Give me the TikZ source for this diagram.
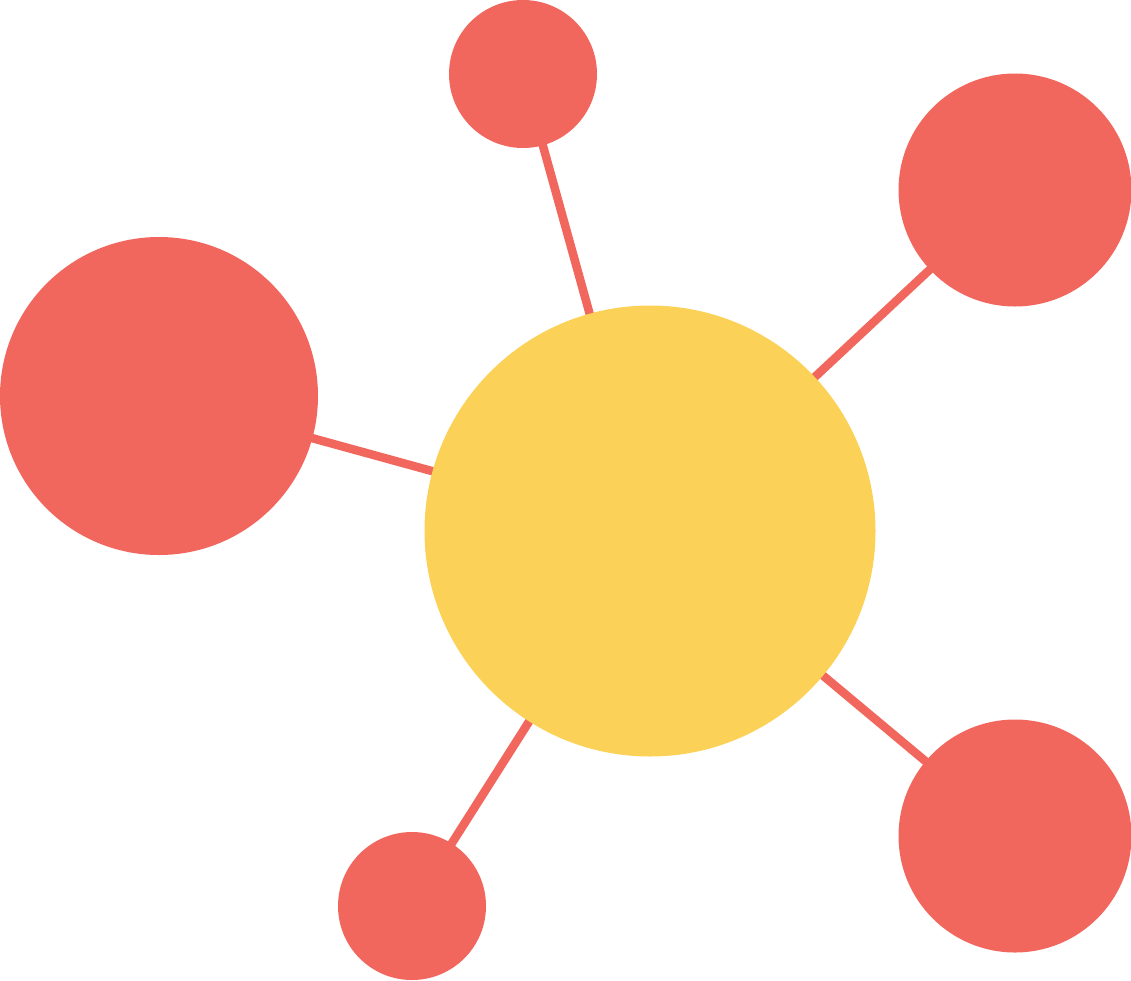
\documentclass[tikz,border=0pt]{standalone}
\usetikzlibrary{backgrounds}
\definecolor{dotred}{HTML}{F2675D}
\definecolor{hubyellow}{HTML}{FCD158}
\begin{document}
\begin{tikzpicture}[x=1pt,y=-1pt,
  ball/.style={circle,fill=dotred,draw=none,inner sep=0pt,minimum size=#1},
  hub/.style={circle,fill=hubyellow,draw=none,inner sep=0pt,minimum size=#1},
  link/.style={draw=dotred,line width=8.5pt}]
\useasboundingbox (0,0) rectangle (1131,980);
\node[hub=451pt] (c) at (650,531) {};
\node[ball=148pt] (t) at (523,74) {};
\node[ball=233pt] (tr) at (1015,190) {};
\node[ball=318pt] (l) at (159,396) {};
\node[ball=233pt] (br) at (1015,836) {};
\node[ball=148pt] (b) at (412,906) {};
\begin{scope}[on background layer]
\draw[link] (t.center) -- (c.center);
\draw[link] (tr.center) -- (c.center);
\draw[link] (l.center) -- (c.center);
\draw[link] (br.center) -- (c.center);
\draw[link] (b.center) -- (c.center);
\end{scope}
\end{tikzpicture}
\end{document}
